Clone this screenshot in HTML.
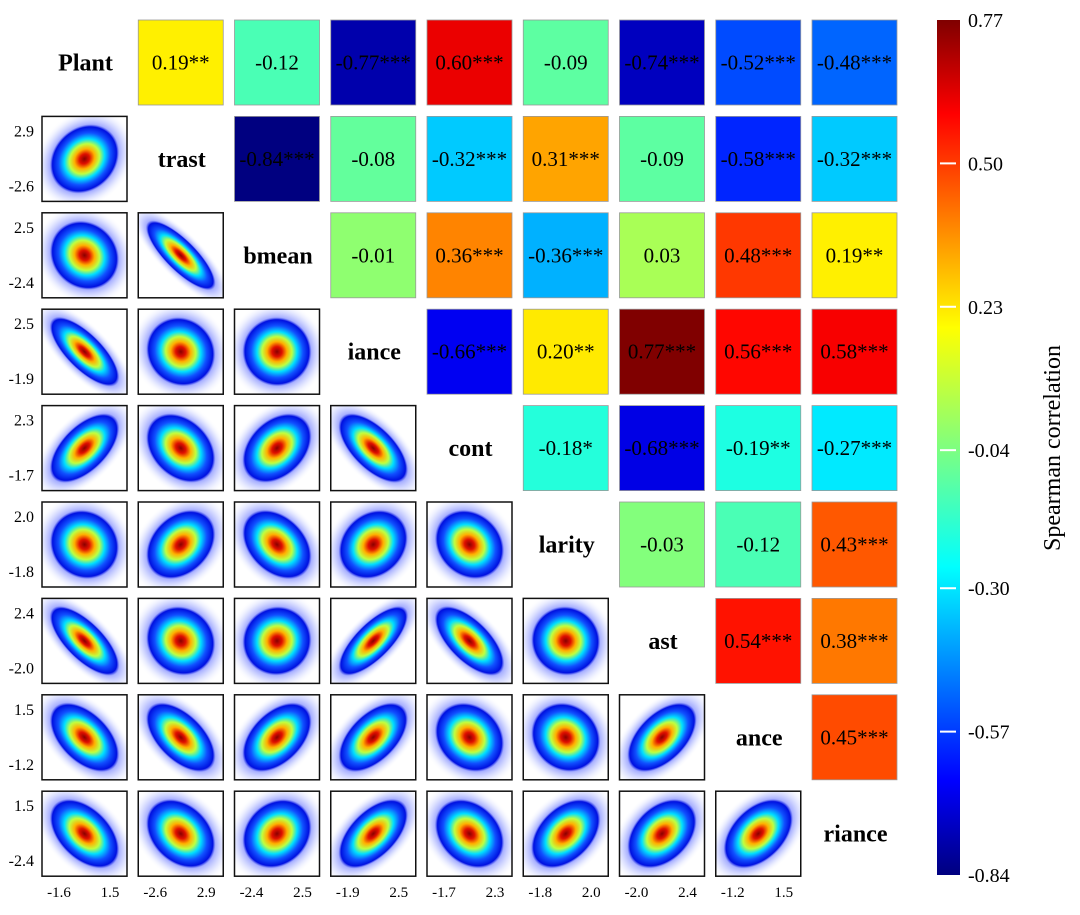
<!DOCTYPE html>
<html><head><meta charset="utf-8"><style>
body{margin:0;background:#fff;}
svg text{font-family:"Liberation Serif",serif;}
</style></head><body>
<svg id="chart" width="1080" height="910" xmlns="http://www.w3.org/2000/svg">
<defs>
<linearGradient id="cbar" x1="0" y1="1" x2="0" y2="0">
<stop offset="0" stop-color="#00007f"/><stop offset="0.11" stop-color="#0000ff"/><stop offset="0.36" stop-color="#00ffff"/><stop offset="0.5" stop-color="#7fff7f"/><stop offset="0.64" stop-color="#ffff00"/><stop offset="0.89" stop-color="#ff0000"/><stop offset="1" stop-color="#7f0000"/>
</linearGradient>
<radialGradient id="dens">
<stop offset="0" stop-color="#8a0000"/><stop offset="0.1" stop-color="#e01000"/><stop offset="0.2" stop-color="#ffb000"/><stop offset="0.3" stop-color="#c0ff40"/><stop offset="0.4" stop-color="#00e0ff"/><stop offset="0.52" stop-color="#1050ff"/><stop offset="0.64" stop-color="#0010e0"/><stop offset="0.69" stop-color="#5060ff" stop-opacity="0.5"/><stop offset="0.85" stop-color="#8090ff" stop-opacity="0.18"/><stop offset="1" stop-color="#ffffff" stop-opacity="0"/>
</radialGradient>
</defs>
<g id="cells"></g>
<g id="cb">
<rect x="937" y="20" width="23" height="855" fill="url(#cbar)"/>
</g>
<text x="1060" y="448" font-size="24" text-anchor="middle" transform="rotate(-90 1060 448)">Spearman correlation</text>
</svg>
<script>
const labels = ["Plant","trast","bmean","iance","cont","larity","ast","ance","riance"];
const row0 = ["0.19**","-0.12","-0.77***","0.60***","-0.09","-0.74***","-0.52***","-0.48***"];
const row1 = ["-0.84***","-0.08","-0.32***","0.31***","-0.09","-0.58***","-0.32***"];
const row2 = ["-0.01","0.36***","-0.36***","0.03","0.48***","0.19**"];
const row3 = ["-0.66***","0.20**","0.77***","0.56***","0.58***"];
const row4 = ["-0.18*","-0.68***","-0.19**","-0.27***"];
const row5 = ["-0.03","-0.12","0.43***"];
const row6 = ["0.54***","0.38***"];
const row7 = ["0.45***"];
const tickHi = ["1.5","2.9","2.5","2.5","2.3","2.0","2.4","1.5","1.5"];
const tickLo = ["-1.6","-2.6","-2.4","-1.9","-1.7","-1.8","-2.0","-1.2","-2.4"];
const cbTicks = [0.77,0.50,0.23,-0.04,-0.30,-0.57,-0.84];
const vmin=-0.84, vmax=0.77;
const rows=[row0,row1,row2,row3,row4,row5,row6,row7];
const NS="http://www.w3.org/2000/svg";
const n=labels.length;
const X=c=>42+c*96.25, Y=r=>20+r*96.4, S=85;
function jet(v){let t=(v-vmin)/(vmax-vmin);t=Math.max(0,Math.min(1,t));
 const f=x=>Math.round(255*Math.max(0,Math.min(1,x)));
 return `rgb(${f(1.5-Math.abs(4*t-3))},${f(1.5-Math.abs(4*t-2))},${f(1.5-Math.abs(4*t-1))})`;}
function el(tag,attrs,parent){const e=document.createElementNS(NS,tag);for(const k in attrs)e.setAttribute(k,attrs[k]);parent.appendChild(e);return e;}
const g=document.getElementById('cells');
function corr(i,j){if(i===j)return 1;const a=Math.min(i,j),b=Math.max(i,j);return parseFloat(rows[a][b-a-1]);}
for(let i=0;i<n;i++)for(let j=0;j<n;j++){
 const x=X(j),y=Y(i);
 if(i===j){const t=el('text',{x:x+S/2+1,y:y+S/2+8,'font-size':24,'font-weight':'bold','text-anchor':'middle'},g);t.textContent=labels[i];
  
  }
 else if(j>i){const s=rows[i][j-i-1],v=parseFloat(s);
  const r=el('rect',{x:x,y:y,width:S,height:S,fill:jet(v),stroke:'#999','stroke-width':0.8},g);
  
  
  const t=el('text',{x:x+S/2,y:y+S/2+7,'font-size':21,'text-anchor':'middle'},g);t.textContent=s;
  
  }
 else{const v=corr(i,j);
  const cp=el('clipPath',{id:'c'+i+'_'+j},g);el('rect',{x:x,y:y,width:S,height:S},cp);
  const gg=el('g',{'clip-path':`url(#c${i}_${j})`},g);
  
  
  const base=50,a=Math.abs(v);
  el('ellipse',{cx:0,cy:0,rx:base*Math.sqrt(1+a),ry:base*Math.sqrt(Math.max(0.07,1-a*0.95)),fill:'url(#dens)',transform:`translate(${x+S/2},${y+S/2}) rotate(${v>=0?-45:45})`},gg);
  el('rect',{x:x,y:y,width:S,height:S,fill:'none',stroke:'#111','stroke-width':1.5},g);
  if(j===0){const t1=el('text',{x:x-8,y:y+20,'font-size':16,'text-anchor':'end'},g);t1.textContent=tickHi[i];
   
   const t2=el('text',{x:x-8,y:y+S-10,'font-size':16,'text-anchor':'end'},g);t2.textContent=tickLo[i];
   }
  if(i===n-1){const t1=el('text',{x:x+17,y:y+S+21,'font-size':15,'text-anchor':'middle'},g);t1.textContent=tickLo[j];
   
   const t2=el('text',{x:x+S-17,y:y+S+21,'font-size':15,'text-anchor':'middle'},g);t2.textContent=tickHi[j];
   }
 }
}
const cb=document.getElementById('cb');
cbTicks.forEach(v=>{const y=20+(vmax-v)/(vmax-vmin)*855;
 if(v<vmax&&v>vmin)el('line',{x1:940,x2:956,y1:y,y2:y,stroke:'#fff','stroke-width':2},cb);
 const t=el('text',{x:968,y:y+7,'font-size':20},cb);t.textContent=v.toFixed(2);
 
 });
</script>
</body></html>
